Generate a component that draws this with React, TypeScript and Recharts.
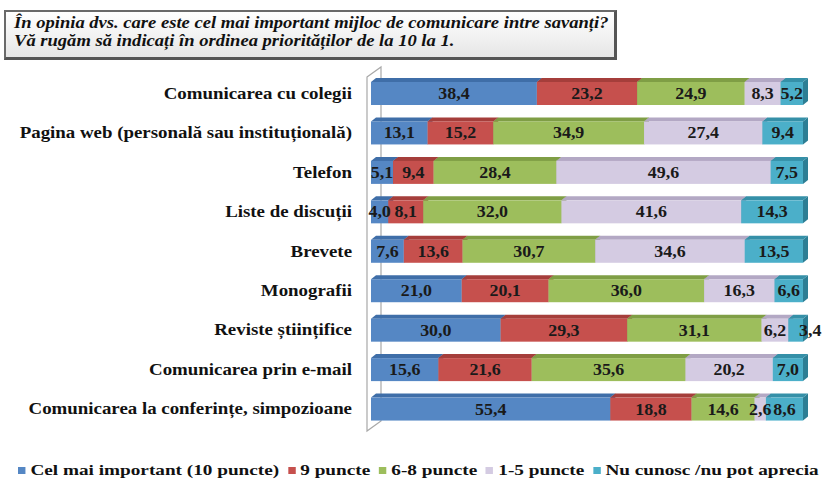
import React from 'react';
import { BarChart, Bar, XAxis, YAxis, LabelList, Legend, usePlotArea } from 'recharts';

const categories = [
  'Comunicarea cu colegii',
  'Pagina web (personală sau instituțională)',
  'Telefon',
  'Liste de discuții',
  'Brevete',
  'Monografii',
  'Reviste științifice',
  'Comunicarea prin e-mail',
  'Comunicarea la conferințe, simpozioane',
];

const seriesNames = [
  'Cel mai important (10 puncte)',
  '9 puncte',
  '6-8 puncte',
  '1-5 puncte',
  'Nu cunosc /nu pot aprecia',
];

const s10 = [38.4, 13.1, 5.1, 4.0, 7.6, 21.0, 30.0, 15.6, 55.4];
const s9 = [23.2, 15.2, 9.4, 8.1, 13.6, 20.1, 29.3, 21.6, 18.8];
const s68 = [24.9, 34.9, 28.4, 32.0, 30.7, 36.0, 31.1, 35.6, 14.6];
const s15 = [8.3, 27.4, 49.6, 41.6, 34.6, 16.3, 6.2, 20.2, 2.6];
const sNu = [5.2, 9.4, 7.5, 14.3, 13.5, 6.6, 3.4, 7.0, 8.6];

const titleLines = [
  'În opinia dvs. care este cel mai important mijloc de comunicare intre savanți?',
  'Vă rugăm să indicați  în ordinea priorităților de la 10 la 1.',
];

const colors = ['#5587C4', '#C6504D', '#9DBE5C', '#D4CBE2', '#4BAFC9'];
const topColors = ['#3F6EA8', '#A53E3B', '#7F9E45', '#B3A8C4', '#3590A8'];
const sideColors = ['#36618F', '#8E3532', '#6E893B', '#9E93B0', '#2D7E94'];

const keys = ['s10', 's9', 's68', 's15', 'sNu'];
const seriesValues = [s10, s9, s68, s15, sNu];

const data = categories.map((c, i) => {
  const row: any = { name: c };
  keys.forEach((k, j) => {
    row[k] = seriesValues[j][i];
  });
  return row;
});

const FONT = '"Liberation Serif", "Times New Roman", serif';

const makeShape = (idx: number) => (props: any) => {
  const { x, y, width, height } = props;
  const dx = 5;
  const dy = 4;
  return (
    <g>
      <polygon
        points={`${x + width},${y} ${x + width + dx},${y - dy} ${x + width + dx},${y + height - dy} ${x + width},${y + height}`}
        fill={sideColors[idx]}
      />
      <polygon
        points={`${x},${y} ${x + dx},${y - dy} ${x + width + dx},${y - dy} ${x + width},${y}`}
        fill={topColors[idx]}
      />
      <rect x={x} y={y} width={width} height={height} fill={colors[idx]} />
    </g>
  );
};

function Wall() {
  const area = usePlotArea();
  if (!area) return null;
  const { x, y, height } = area;
  const lx = x - 4;
  const rx = x + 10;
  const pts = `${lx},${y + 3} ${rx},${y - 7} ${rx},${y + height - 8} ${lx},${y + height + 2}`;
  return <polygon points={pts} fill="none" stroke="#A8A8A8" strokeWidth={1.2} />;
}

const CatTick = (props: any) => {
  const { x, y, payload } = props;
  return (
    <text
      transform={`translate(${x},${y + 5}) scale(1.18,1)`}
      textAnchor="end"
      fontFamily={FONT}
      fontWeight="bold"
      fontSize={16}
      fill="#111"
    >
      {payload.value}
    </text>
  );
};

const fmt = (v: any) => Number(v).toFixed(1).replace('.', ',');

const makeLabel = (idx: number) => (props: any) => {
  const { x, y, width, height, value } = props;
  let cx = x + width / 2;
  let anchor: 'middle' | 'start' = 'middle';
  if (idx === keys.length - 1 && width < 18) {
    cx = x + width - 4;
    anchor = 'start';
  }
  return (
    <text
      transform={`translate(${cx},${y + height / 2 + 5.5}) scale(1.12,1)`}
      textAnchor={anchor}
      fontFamily={FONT}
      fontWeight="bold"
      fontSize={16}
      fill="#1a1a1a"
    >
      {fmt(value)}
    </text>
  );
};

const LegendContent = () => (
  <div
    style={{
      display: 'flex',
      alignItems: 'center',
      fontFamily: FONT,
      fontWeight: 'bold',
      fontSize: 15.5,
      color: '#111',
      whiteSpace: 'nowrap',
      transform: 'scaleX(1.24)',
      transformOrigin: 'left center',
    }}
  >
    {seriesNames.map((n, i) => (
      <div key={n} style={{ display: 'flex', alignItems: 'center', marginRight: 7 }}>
        <span
          style={{
            display: 'inline-block',
            width: 6,
            height: 7,
            background: colors[i],
            marginRight: 4,
          }}
        />
        <span>{n}</span>
      </div>
    ))}
  </div>
);

export default function App() {
  return (
    <div style={{ position: 'absolute', left: 0, top: 0, width: 825, height: 485, background: '#fff' }}>
      <div
        style={{
          position: 'absolute',
          left: 4,
          top: 10,
          width: 613,
          height: 50,
          boxSizing: 'border-box',
          border: '2px solid #6a6a6a',
          borderRight: '3px solid #555',
          borderBottom: '3px solid #555',
          background: 'linear-gradient(#ffffff, #e6e6e6)',
          padding: '2px 0 0 8px',
          fontFamily: FONT,
          fontWeight: 'bold',
          fontStyle: 'italic',
          fontSize: 16,
          lineHeight: '18px',
          color: '#111',
          whiteSpace: 'nowrap',
          zIndex: 2,
        }}
      >
        <div style={{ transform: 'scaleX(1.16)', transformOrigin: 'left center' }}>{titleLines[0]}</div>
        <div style={{ transform: 'scaleX(1.16)', transformOrigin: 'left center' }}>{titleLines[1]}</div>
      </div>
      <BarChart
        width={825}
        height={485}
        data={data}
        layout="vertical"
        margin={{ top: 74, right: 22, bottom: 38, left: 0 }}
        barCategoryGap={18}
      >
        <Wall />
        <XAxis type="number" domain={[0, 100]} hide />
        <YAxis
          type="category"
          dataKey="name"
          width={371}
          axisLine={false}
          tickLine={false}
          tickSize={0}
          tickMargin={19}
          tick={<CatTick />}
          interval={0}
        />
        {keys.map((k, i) => (
          <Bar
            key={k}
            dataKey={k}
            name={seriesNames[i]}
            stackId="a"
            fill={colors[i]}
            barSize={23}
            shape={makeShape(i)}
            isAnimationActive={false}
          >
            <LabelList dataKey={k} content={makeLabel(i)} />
          </Bar>
        ))}
        <Legend
          content={<LegendContent />}
          wrapperStyle={{ position: 'absolute', left: 18, top: 461, width: 'auto' }}
        />
      </BarChart>
    </div>
  );
}
